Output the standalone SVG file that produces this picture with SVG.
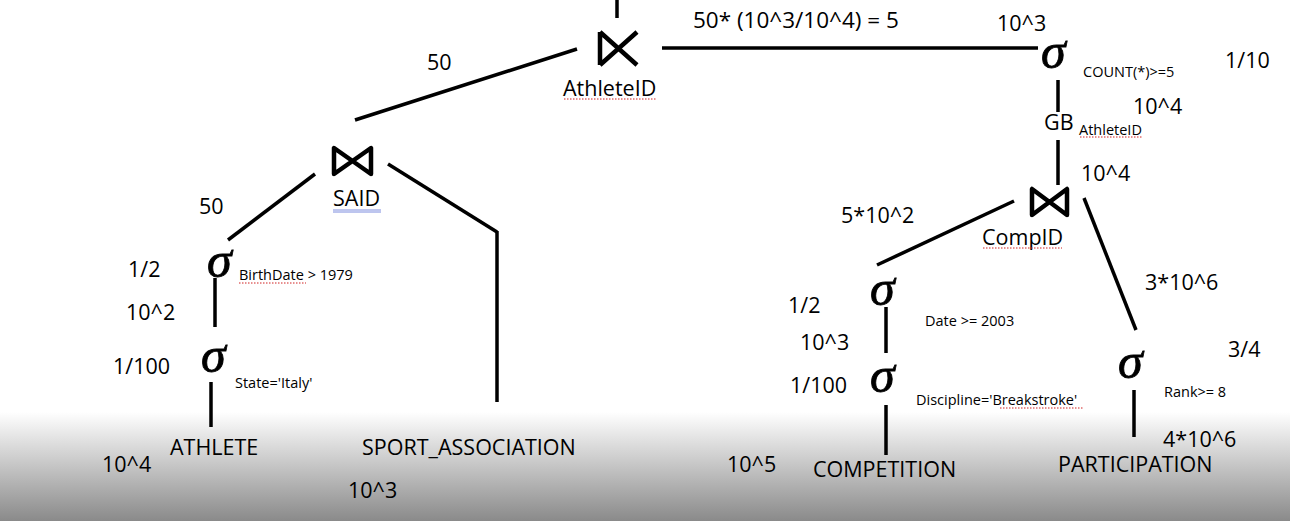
<svg xmlns="http://www.w3.org/2000/svg" width="1290" height="521" viewBox="0 0 1290 521">
<defs>
<linearGradient id="bg" x1="0" y1="0" x2="0" y2="1">
<stop offset="0" stop-color="#ffffff"/>
<stop offset="1" stop-color="#8a8a8a"/>
</linearGradient>
<style>
.t{font-family:"Open Sans",Lato,sans-serif;font-size:21.5px;fill:#000}
.big{font-size:22.5px}
.s{font-family:"Open Sans",Lato,sans-serif;font-size:14.5px;fill:#000}
.sig{font-family:"Liberation Serif","DejaVu Serif",serif;font-style:italic;font-size:50px;fill:#000;stroke:#000;stroke-width:0.8}
.e{stroke:#000;stroke-width:3.5;fill:none;stroke-linecap:butt}
.op{stroke:#000;stroke-width:4.5;fill:none;stroke-linejoin:round}
.sq{stroke:#d02020;stroke-width:1;fill:none;stroke-dasharray:1.5 1.5}
</style>
</defs>
<rect x="0" y="0" width="1290" height="521" fill="#fff"/>
<rect x="0" y="412" width="1290" height="109" fill="url(#bg)"/>

<g id="connectors">
<line class="e" x1="617" y1="0" x2="617" y2="18"/>
<line class="e" x1="355" y1="120" x2="577" y2="49"/>
<line class="e" x1="662" y1="48" x2="1038" y2="48"/>
<line class="e" x1="1058" y1="80" x2="1058" y2="112"/>
<line class="e" x1="1058" y1="140" x2="1058" y2="185"/>
<line class="e" x1="228" y1="240" x2="315" y2="174"/>
<line class="e" x1="388" y1="164" x2="497" y2="232"/>
<line class="e" x1="497" y1="231" x2="497" y2="402"/>
<line class="e" x1="215" y1="278" x2="215" y2="327"/>
<line class="e" x1="211" y1="382" x2="211" y2="427"/>
<line class="e" x1="1014" y1="201" x2="877" y2="265"/>
<line class="e" x1="1084" y1="198" x2="1136" y2="330"/>
<line class="e" x1="886" y1="307" x2="886" y2="353"/>
<line class="e" x1="886" y1="405" x2="886" y2="455"/>
<line class="e" x1="1134" y1="390" x2="1134" y2="437"/>
</g>

<g id="join-athleteid">
<path class="op" d="M600 32 L600 65 M600 32 L637 65 M600 65 L637 32"/>
<text class="t" x="563" y="96">AthleteID</text>
<path class="sq" d="M564 99 L656 99"/>
</g>

<g id="join-said">
<path class="op" d="M334 148 L334 174 L371 148 L371 174 Z"/>
<text class="t" x="333" y="206">SAID</text>
<path d="M333 210 L381 210 M333 212 L381 212" stroke="#5b6fd6" stroke-width="0.8"/>
</g>

<g id="join-compid">
<path class="op" d="M1032 189 L1032 215 L1067 189 L1067 215 Z"/>
<text class="t" x="982" y="245">CompID</text>
<path class="sq" d="M983 248 L1062 248"/>
</g>

<g id="select-count">
<text class="sig" x="1041" y="68">σ</text>
<text class="s" x="1083" y="77">COUNT(*)&gt;=5</text>
</g>

<g id="groupby">
<text class="t" x="1044" y="130">GB</text>
<text class="s" x="1079" y="135">AthleteID</text>
<path class="sq" d="M1080 137 L1142 137"/>
</g>

<g id="select-birthdate">
<text class="sig" x="207" y="277">σ</text>
<text class="s" x="239" y="280">BirthDate &gt; 1979</text>
<path class="sq" d="M239 283 L306 283"/>
</g>

<g id="select-state">
<text class="sig" x="201" y="372">σ</text>
<text class="s" x="235" y="388">State='Italy'</text>
</g>

<g id="select-date">
<text class="sig" x="870" y="305">σ</text>
<text class="s" x="925" y="326">Date &gt;= 2003</text>
</g>

<g id="select-discipline">
<text class="sig" x="870" y="392">σ</text>
<text class="s" x="916" y="405">Discipline='Breakstroke'</text>
<path class="sq" d="M1000 408 L1084 408"/>
</g>

<g id="select-rank">
<text class="sig" x="1118" y="378">σ</text>
<text class="s" x="1164" y="397">Rank&gt;= 8</text>
</g>

<g id="athlete"><text class="t" x="170" y="455">ATHLETE</text></g>
<g id="sport-association"><text class="t" x="362" y="455">SPORT_ASSOCIATION</text></g>
<g id="competition"><text class="t" x="813" y="477">COMPETITION</text></g>
<g id="participation"><text class="t" x="1058" y="472">PARTICIPATION</text></g>

<g id="labels">
<text class="t big" x="693" y="28">50* (10^3/10^4) = 5</text>
<text class="t" x="997" y="31">10^3</text>
<text class="t" x="1225" y="68">1/10</text>
<text class="t" x="1133" y="114">10^4</text>
<text class="t" x="1081" y="181">10^4</text>
<text class="t" x="427" y="70">50</text>
<text class="t" x="199" y="214">50</text>
<text class="t" x="128" y="277">1/2</text>
<text class="t" x="126" y="320">10^2</text>
<text class="t" x="113" y="374">1/100</text>
<text class="t" x="102" y="472">10^4</text>
<text class="t" x="348" y="498">10^3</text>
<text class="t" x="727" y="472">10^5</text>
<text class="t" x="841" y="223">5*10^2</text>
<text class="t" x="1145" y="290">3*10^6</text>
<text class="t" x="788" y="313">1/2</text>
<text class="t" x="800" y="350">10^3</text>
<text class="t" x="790" y="393">1/100</text>
<text class="t" x="1228" y="357">3/4</text>
<text class="t" x="1163" y="447">4*10^6</text>
</g>
</svg>
